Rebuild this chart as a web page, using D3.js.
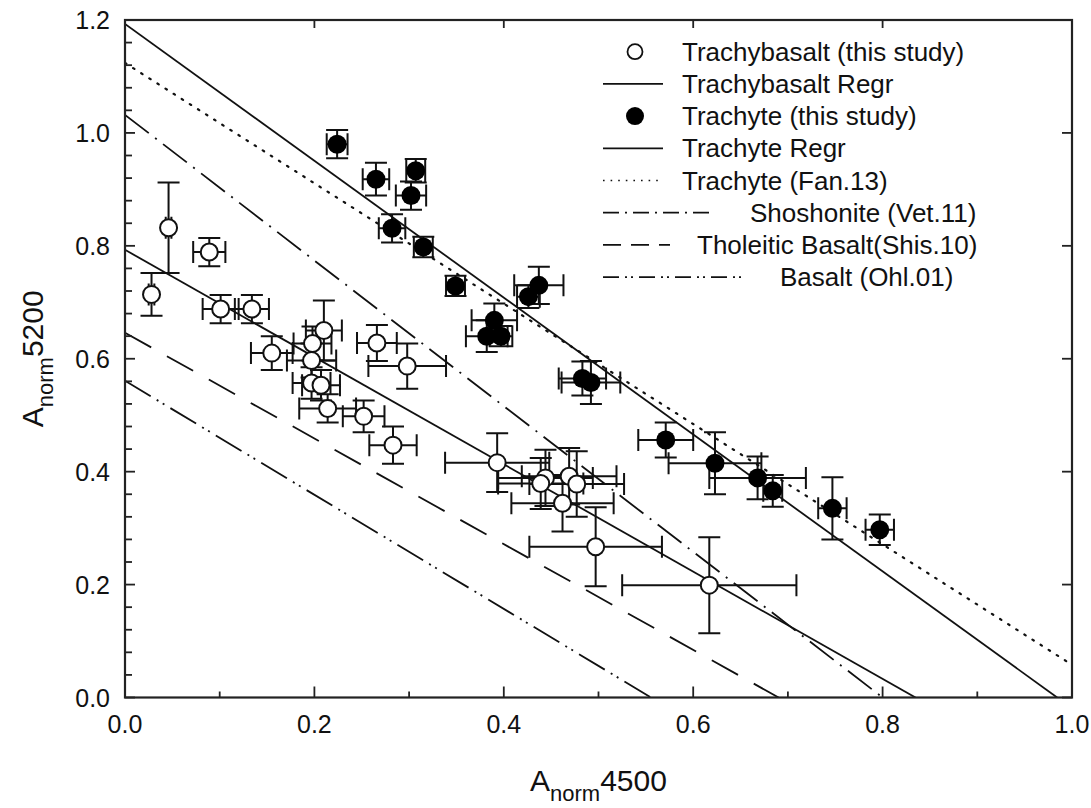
<!DOCTYPE html>
<html>

<head>
    <title>Anorm5200 vs Anorm4500</title>
    <script src="https://cdn.jsdelivr.net/npm/d3@7"></script>
    <style>
        body {
            margin: 0;
            background: #fff;
            font-family: 'Liberation Sans', Arial, sans-serif;
        }
    </style>
</head>

<body>
    <div id="visDiv"></div>
</body>
<script>
    /* Data */
    // Trachybasalt (this study): x, y, x error, y error
    var basX = [0.028, 0.046, 0.089, 0.101, 0.134, 0.155, 0.198, 0.210, 0.197, 0.266, 0.298, 0.197,
        0.207, 0.214, 0.252, 0.283, 0.393, 0.444, 0.439, 0.469, 0.477, 0.462, 0.497, 0.617];
    var basY = [0.714, 0.832, 0.789, 0.688, 0.688, 0.610, 0.627, 0.650, 0.597, 0.628, 0.587, 0.557,
        0.553, 0.512, 0.498, 0.447, 0.416, 0.389, 0.379, 0.392, 0.378, 0.344, 0.267, 0.199];
    var basXErr = [0.003, 0.003, 0.017, 0.019, 0.018, 0.022, 0.020, 0.019, 0.026, 0.021, 0.041, 0.020,
        0.020, 0.030, 0.022, 0.025, 0.055, 0.050, 0.045, 0.050, 0.050, 0.054, 0.070, 0.092];
    var basYErr = [0.038, 0.080, 0.025, 0.025, 0.025, 0.030, 0.030, 0.053, 0.030, 0.032, 0.040, 0.028,
        0.027, 0.025, 0.028, 0.033, 0.052, 0.050, 0.045, 0.050, 0.058, 0.050, 0.070, 0.085];

    // Trachyte (this study)
    var traX = [0.224, 0.265, 0.307, 0.302, 0.282, 0.315, 0.349, 0.437, 0.426, 0.390,
        0.382, 0.397, 0.483, 0.492, 0.571, 0.623, 0.668, 0.684, 0.747, 0.797];
    var traY = [0.980, 0.918, 0.933, 0.889, 0.831, 0.798, 0.729, 0.730, 0.710, 0.668,
        0.640, 0.640, 0.565, 0.558, 0.456, 0.415, 0.389, 0.366, 0.335, 0.297];
    var traXErr = [0.011, 0.014, 0.010, 0.016, 0.014, 0.010, 0.010, 0.026, 0.012, 0.024,
        0.022, 0.012, 0.025, 0.031, 0.029, 0.049, 0.051, 0.010, 0.015, 0.015];
    var traYErr = [0.025, 0.029, 0.021, 0.025, 0.025, 0.018, 0.018, 0.033, 0.020, 0.030,
        0.028, 0.018, 0.030, 0.038, 0.031, 0.055, 0.038, 0.028, 0.055, 0.027];

    // reference lines: y = intercept + slope * x
    var lineNames = ["Trachybasalt Regr", "Trachyte Regr", "Trachyte (Fan.13)",
        "Shoshonite (Vet.11)", "Tholeitic Basalt(Shis.10)", "Basalt (Ohl.01)"];
    var lineIntercepts = [0.793, 1.193, 1.124, 1.032, 0.646, 0.561];
    var lineSlopes = [-0.950, -1.212, -1.066, -1.290, -0.936, -1.010];

    var xTicks = [0.0, 0.2, 0.4, 0.6, 0.8, 1.0];
    var yTicks = [0.0, 0.2, 0.4, 0.6, 0.8, 1.0, 1.2];

    /* Layout constants */
    var W = 1091, H = 808;
    var pLeft = 125, pRight = 1072, pTop = 20, pBottom = 697.5;
    var dashes = ["none", "none", "1.6,8", "30,8,2,8", "30,18", "30,7,2,5,2,7"];
    var legendDashes = ["none", "none", "1.6,6", "16,6,2,6", "18,10", "16,6,2,4,2,6"];
    var capH = 11;

    var svg = d3.select("#visDiv")
        .append("svg")
        .attr("width", W)
        .attr("height", H);

    /* Scales */
    var x = d3.scaleLinear().domain([0, 1]).range([pLeft, pRight]);
    var y = d3.scaleLinear().domain([0, 1.2]).range([pBottom, pTop]);

    svg.append("clipPath").attr("id", "plotClip")
        .append("rect")
        .attr("x", pLeft).attr("y", pTop)
        .attr("width", pRight - pLeft).attr("height", pBottom - pTop);

    /* Reference lines */
    var lines = lineNames.map(function (n, i) {
        var xEnd = Math.min(1, -lineIntercepts[i] / lineSlopes[i]);
        return [[0, lineIntercepts[i]], [xEnd, lineIntercepts[i] + lineSlopes[i] * xEnd]];
    });
    svg.append("g").attr("clip-path", "url(#plotClip)")
        .selectAll("path")
        .data(lines)
        .enter()
        .append("path")
        .attr("fill", "none")
        .attr("stroke", "#111")
        .attr("stroke-width", function (d, i) { return i == 2 ? 2.2 : 1.8 })
        .attr("stroke-linecap", function (d, i) { return i == 2 ? "round" : "butt" })
        .attr("stroke-dasharray", function (d, i) { return dashes[i] })
        .attr("d", d3.line()
            .x(function (d) { return x(d[0]) })
            .y(function (d) { return y(d[1]) }));

    /* Error bars */
    function errorBars(xs, ys, xe, ye) {
        var g = svg.append("g")
            .attr("stroke", "#111")
            .attr("stroke-width", 2)
            .attr("fill", "none");
        xs.forEach(function (v, i) {
            var cx = x(v), cy = y(ys[i]);
            var x0 = x(v - xe[i]), x1 = x(v + xe[i]);
            var y0 = y(ys[i] - ye[i]), y1 = y(ys[i] + ye[i]);
            var p = "M" + x0 + "," + cy + "H" + x1 +
                "M" + x0 + "," + (cy - capH) + "V" + (cy + capH) +
                "M" + x1 + "," + (cy - capH) + "V" + (cy + capH) +
                "M" + cx + "," + y0 + "V" + y1 +
                "M" + (cx - capH) + "," + y0 + "H" + (cx + capH) +
                "M" + (cx - capH) + "," + y1 + "H" + (cx + capH);
            g.append("path").attr("d", p);
        });
    }
    errorBars(basX, basY, basXErr, basYErr);
    errorBars(traX, traY, traXErr, traYErr);

    /* Points */
    svg.append("g")
        .selectAll("circle")
        .data(basX)
        .enter()
        .append("circle")
        .attr("cx", function (d) { return x(d) })
        .attr("cy", function (d, i) { return y(basY[i]) })
        .attr("r", 8.5)
        .attr("fill", "#fff")
        .attr("stroke", "#111")
        .attr("stroke-width", 2);

    svg.append("g")
        .selectAll("circle")
        .data(traX)
        .enter()
        .append("circle")
        .attr("cx", function (d) { return x(d) })
        .attr("cy", function (d, i) { return y(traY[i]) })
        .attr("r", 9.5)
        .attr("fill", "#000");

    /* Axes */
    var ticks = svg.append("g").attr("stroke", "#222").attr("stroke-width", 1.8);
    // bottom: major 0.2 / minor 0.1, inward
    d3.range(0, 11).forEach(function (k) {
        var len = (k % 2 == 0) ? 11 : 6;
        ticks.append("line").attr("x1", x(k / 10)).attr("x2", x(k / 10))
            .attr("y1", pBottom).attr("y2", pBottom - len);
    });
    // top: majors only
    xTicks.forEach(function (t) {
        ticks.append("line").attr("x1", x(t)).attr("x2", x(t))
            .attr("y1", pTop).attr("y2", pTop + 8);
    });
    // left: major 0.2 / minor 0.04
    d3.range(0, 31).forEach(function (k) {
        var len = (k % 5 == 0) ? 10 : 7;
        ticks.append("line").attr("x1", pLeft).attr("x2", pLeft + len)
            .attr("y1", y(k * 0.04)).attr("y2", y(k * 0.04));
    });
    // right: majors only
    yTicks.forEach(function (t) {
        ticks.append("line").attr("x1", pRight).attr("x2", pRight - 10)
            .attr("y1", y(t)).attr("y2", y(t));
    });

    // frame
    svg.append("rect")
        .attr("x", pLeft).attr("y", pTop)
        .attr("width", pRight - pLeft).attr("height", pBottom - pTop)
        .attr("fill", "none")
        .attr("stroke", "#222")
        .attr("stroke-width", 2.2);

    var axisG = svg.append("g").attr("font-size", 25).attr("fill", "#111");
    axisG.selectAll(".xlab")
        .data(xTicks)
        .enter()
        .append("text")
        .attr("x", function (d) { return x(d) })
        .attr("y", 733)
        .attr("text-anchor", "middle")
        .text(function (d) { return d.toFixed(1) });

    axisG.selectAll(".ylab")
        .data(yTicks)
        .enter()
        .append("text")
        .attr("x", 110)
        .attr("y", function (d) { return y(d) + 9 })
        .attr("text-anchor", "end")
        .text(function (d) { return d.toFixed(1) });

    // axis titles
    var xt = svg.append("text")
        .attr("x", (pLeft + pRight) / 2)
        .attr("y", 791)
        .attr("text-anchor", "middle")
        .attr("font-size", 30)
        .attr("fill", "#111");
    xt.append("tspan").text("A");
    xt.append("tspan").attr("font-size", 22).attr("dy", 10).text("norm");
    xt.append("tspan").attr("dy", -10).text("4500");

    var yt = svg.append("text")
        .attr("transform", "translate(43," + ((pTop + pBottom) / 2) + ") rotate(-90)")
        .attr("text-anchor", "middle")
        .attr("font-size", 30)
        .attr("fill", "#111");
    yt.append("tspan").text("A");
    yt.append("tspan").attr("font-size", 22).attr("dy", 10).text("norm");
    yt.append("tspan").attr("dy", -10).text("5200");

    /* Legend */
    var legendLabels = ["Trachybasalt (this study)", "Trachybasalt Regr", "Trachyte (this study)",
        "Trachyte Regr", "Trachyte (Fan.13)", "Shoshonite (Vet.11)", "Tholeitic Basalt(Shis.10)", "Basalt (Ohl.01)"];
    var legendTextX = [682, 682, 682, 682, 682, 750, 697, 780];
    var legendLineEnd = [0, 663, 0, 663, 663, 715, 670, 745];
    var legendDashIdx = [-1, 0, -1, 1, 2, 3, 4, 5];
    var lg = svg.append("g").attr("font-size", 26).attr("fill", "#111");
    legendLabels.forEach(function (lab, i) {
        var cy = 51.7 + i * 32.2;
        if (i == 0) {
            lg.append("circle").attr("cx", 635).attr("cy", cy).attr("r", 7.5)
                .attr("fill", "#fff").attr("stroke", "#111").attr("stroke-width", 1.8);
        } else if (i == 2) {
            lg.append("circle").attr("cx", 635).attr("cy", cy).attr("r", 9).attr("fill", "#000");
        } else {
            lg.append("line")
                .attr("x1", 603).attr("x2", legendLineEnd[i])
                .attr("y1", cy).attr("y2", cy)
                .attr("stroke", "#111")
                .attr("stroke-width", legendDashIdx[i] == 2 ? 1.6 : 1.8)
                .attr("stroke-dasharray", legendDashes[legendDashIdx[i]]);
        }
        lg.append("text")
            .attr("x", legendTextX[i])
            .attr("y", cy + 9)
            .text(lab);
    });
</script>

</html>
